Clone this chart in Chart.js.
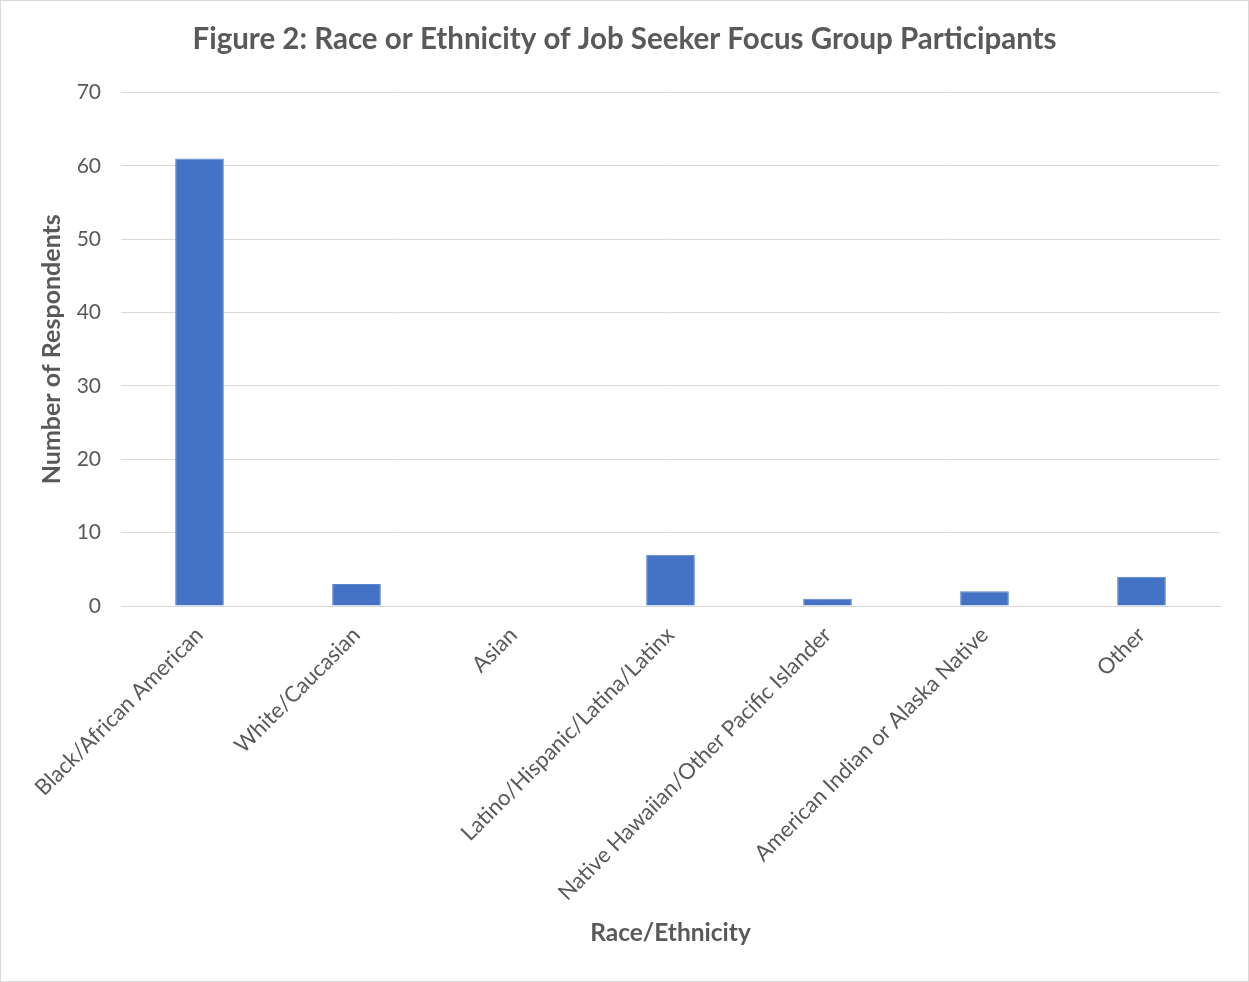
<!DOCTYPE html>
<html>
<head>
<meta charset="utf-8">
<script src="https://cdn.jsdelivr.net/npm/chart.js@4/dist/chart.umd.min.js"></script>
<style>
  html, body { margin: 0; padding: 0; background: #fff; }
  #wrap {
    width: 1249px; height: 982px; box-sizing: border-box;
    border: 1px solid #d9d9d9; position: relative;
  }
</style>
</head>
<body>
<div id="wrap"><canvas id="chart"></canvas></div>
<script>
// chart data
const categories = [
  'Black/African American',
  'White/Caucasian',
  'Asian',
  'Latino/Hispanic/Latina/Latinx',
  'Native Hawaiian/Other Pacific Islander',
  'American Indian or Alaska Native',
  'Other'
];
const respondents = [61, 3, 0, 7, 1, 2, 4];
const yTicks = [0, 10, 20, 30, 40, 50, 60, 70];

const textGray = '#595959';
const fontFamily = 'Lato, "Open Sans", sans-serif';

const ctx = document.getElementById('chart').getContext('2d');
new Chart(ctx, {
    type: 'bar',
    data: {
        labels: categories,
        datasets: [{
            label: 'Number of Respondents',
            data: respondents,
            backgroundColor: '#4472C4',
            borderColor: '#5b84cc',
            borderWidth: 1,
            categoryPercentage: 1,
            barPercentage: 0.31
        }]
    },
    options: {
        responsive: true,
        maintainAspectRatio: false,
        animation: false,
        layout: { padding: 0 },
        plugins: {
            legend: { display: false },
            tooltip: { enabled: false },
            title: {
                display: true,
                text: 'Figure 2: Race or Ethnicity of Job Seeker Focus Group Participants',
                color: textGray,
                font: { family: fontFamily, size: 29.5, weight: 'bold' },
                padding: { top: 21, bottom: 35 }
            }
        },
        scales: {
            x: {
                grid: { display: false, drawTicks: false },
                border: { display: true, color: '#d9d9d9', width: 1 },
                ticks: {
                    color: textGray,
                    font: { family: fontFamily, size: 22 },
                    minRotation: 45,
                    maxRotation: 45,
                    padding: 16
                },
                title: {
                    display: true,
                    text: 'Race/Ethnicity',
                    color: textGray,
                    font: { family: fontFamily, size: 24.5, weight: 'bold' },
                    padding: { top: 0, bottom: 33 }
                },
                afterFit: function(scale) { scale.height = 375; }
            },
            y: {
                min: 0,
                max: 70,
                afterBuildTicks: function(scale) {
                    scale.ticks = yTicks.map(v => ({ value: v }));
                },
                grid: { color: '#d9d9d9', lineWidth: 1, drawTicks: false },
                border: { display: false },
                ticks: {
                    color: textGray,
                    font: { family: fontFamily, size: 21 },
                    padding: 20
                },
                title: {
                    display: true,
                    text: 'Number of Respondents',
                    color: textGray,
                    font: { family: fontFamily, size: 25, weight: 'bold' },
                    padding: { top: 36, bottom: 0 }
                },
                afterFit: function(scale) { scale.width = 120; }
            },
            // empty right-hand spacer so the plot ends where the original does
            yRight: {
                position: 'right',
                min: 0,
                max: 70,
                grid: { display: false, drawTicks: false },
                border: { display: false },
                ticks: { display: false },
                afterFit: function(scale) { scale.width = 28; }
            }
        }
    }
});
</script>
</body>
</html>
